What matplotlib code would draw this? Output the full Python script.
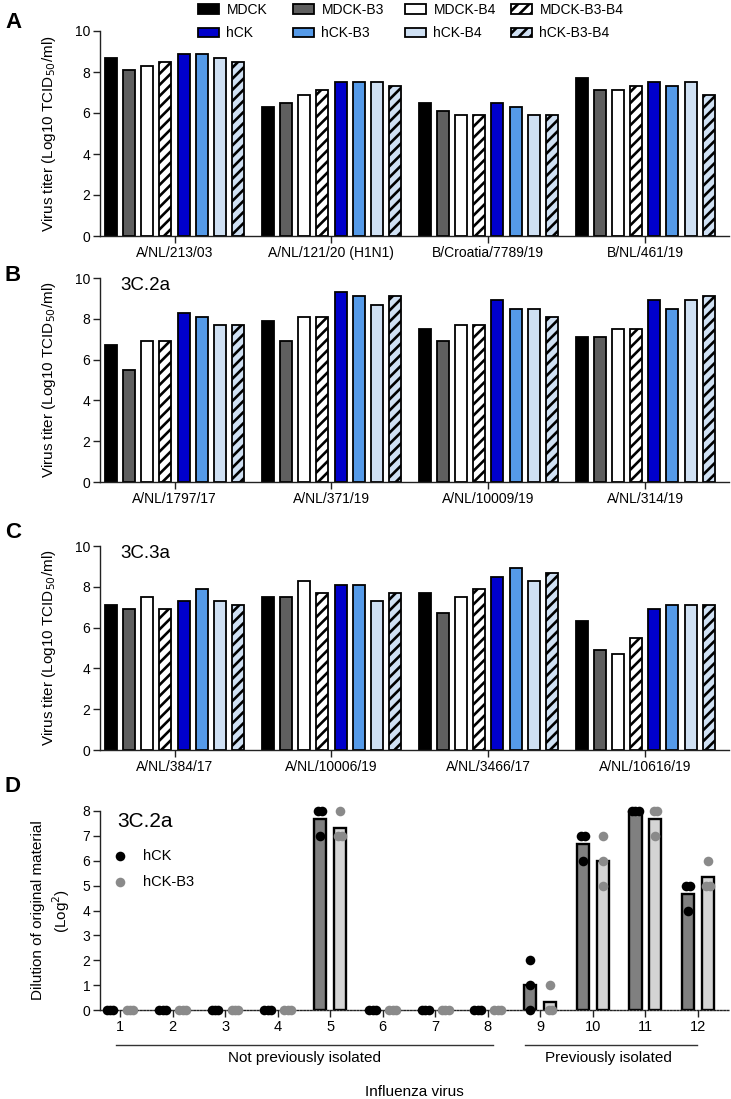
import matplotlib
matplotlib.use('Agg')
import matplotlib.pyplot as plt
import numpy as np

plt.rcParams['font.family'] = ['Liberation Sans', 'DejaVu Sans']
plt.rcParams['hatch.linewidth'] = 1.9

cells = ['MDCK', 'MDCK-B3', 'MDCK-B4', 'MDCK-B3-B4', 'hCK', 'hCK-B3', 'hCK-B4', 'hCK-B3-B4']
fills = ['#000000', '#5f5f5f', '#ffffff', '#ffffff', '#0000cc', '#559ae8', '#cfe0f3', '#cfe0f3']
hatches = [None, None, None, '///', None, None, None, '///']

# panel A
viruses_a = ['A/NL/213/03', 'A/NL/121/20 (H1N1)', 'B/Croatia/7789/19', 'B/NL/461/19']
titer_a = [
    [8.7, 8.1, 8.3, 8.5, 8.9, 8.9, 8.7, 8.5],
    [6.3, 6.5, 6.9, 7.1, 7.5, 7.5, 7.5, 7.3],
    [6.5, 6.1, 5.9, 5.9, 6.5, 6.3, 5.9, 5.9],
    [7.7, 7.1, 7.1, 7.3, 7.5, 7.3, 7.5, 6.9],
]
# panel B (3C.2a)
viruses_b = ['A/NL/1797/17', 'A/NL/371/19', 'A/NL/10009/19', 'A/NL/314/19']
titer_b = [
    [6.7, 5.5, 6.9, 6.9, 8.3, 8.1, 7.7, 7.7],
    [7.9, 6.9, 8.1, 8.1, 9.3, 9.1, 8.7, 9.1],
    [7.5, 6.9, 7.7, 7.7, 8.9, 8.5, 8.5, 8.1],
    [7.1, 7.1, 7.5, 7.5, 8.9, 8.5, 8.9, 9.1],
]
# panel C (3C.3a)
viruses_c = ['A/NL/384/17', 'A/NL/10006/19', 'A/NL/3466/17', 'A/NL/10616/19']
titer_c = [
    [7.1, 6.9, 7.5, 6.9, 7.3, 7.9, 7.3, 7.1],
    [7.5, 7.5, 8.3, 7.7, 8.1, 8.1, 7.3, 7.7],
    [7.7, 6.7, 7.5, 7.9, 8.5, 8.9, 8.3, 8.7],
    [6.3, 4.9, 4.7, 5.5, 6.9, 7.1, 7.1, 7.1],
]
# panel D: dilution replicates per virus
virus_num = list(range(1, 13))
hck_reps = [[0, 0, 0], [0, 0, 0], [0, 0, 0], [0, 0, 0], [8, 8, 7], [0, 0, 0],
            [0, 0, 0], [0, 0, 0], [2, 1, 0], [7, 7, 6], [8, 8, 8], [5, 5, 4]]
hckb3_reps = [[0, 0, 0], [0, 0, 0], [0, 0, 0], [0, 0, 0], [8, 7, 7], [0, 0, 0],
              [0, 0, 0], [0, 0, 0], [1, 0, 0], [7, 6, 5], [8, 8, 7], [6, 5, 5]]

W, H = 731, 1099
fig = plt.figure(figsize=(W / 100, H / 100), dpi=100)


def axes_px(top, bottom, left=100, right=729):
    return fig.add_axes([left / W, 1 - bottom / H, (right - left) / W, (bottom - top) / H])


def style_axes(ax):
    for s in ['top', 'right']:
        ax.spines[s].set_visible(False)
    for s in ['left', 'bottom']:
        ax.spines[s].set_linewidth(1.0)
        ax.spines[s].set_color('#222222')
    ax.tick_params(direction='out', length=5, width=1.0, color='#222222', labelsize=10, pad=2)


group_step = 8.63


def bar_panel(ax, names, titers, clade=None):
    containers = []
    for j in range(len(cells)):
        xs = np.arange(len(names)) * group_step + (j - 3.5)
        c = ax.bar(xs, [row[j] for row in titers], width=0.66, color=fills[j],
                   edgecolor='black', linewidth=1.3, hatch=hatches[j], label=cells[j])
        containers.append(c)
    ax.set_xticks(np.arange(len(names)) * group_step, names)
    ax.tick_params(axis='x', labelsize=10.5)
    ax.set_xlim(-4.1, 30.5)
    ax.set_ylim(0, 10)
    ax.set_yticks([0, 2, 4, 6, 8, 10])
    ax.set_ylabel('Virus titer (Log10 TCID$_{50}$/ml)', fontsize=11)
    ax.yaxis.set_label_coords(-0.066, 0.5)
    style_axes(ax)
    if clade:
        ax.text(0.033, 0.963, clade, transform=ax.transAxes, fontsize=13.5,
                ha='left', va='center')
    return containers


ax_a = axes_px(31, 236)
bars_a = bar_panel(ax_a, viruses_a, titer_a)
ax_b = axes_px(278, 482)
bar_panel(ax_b, viruses_b, titer_b, '3C.2a')
ax_c = axes_px(546, 750)
bar_panel(ax_c, viruses_c, titer_c, '3C.3a')

# legend: one column per cell pair
legend_x = [198, 293, 405, 511]
for k in range(4):
    fig.legend(handles=[bars_a[k], bars_a[k + 4]], loc='upper left',
               bbox_to_anchor=(legend_x[k] / W, 1 - 3 / H), frameon=False,
               fontsize=10, handlelength=1.5, handleheight=0.7,
               handletextpad=0.55, labelspacing=0.68, borderpad=0,
               borderaxespad=0)

# panel D
ax_d = axes_px(811, 1010)
off = 0.19
bw = 0.23
hck_mean = [np.mean(r) for r in hck_reps]
b3_mean = [np.mean(r) for r in hckb3_reps]
xs = np.array(virus_num, dtype=float)
ax_d.bar(xs - off, hck_mean, width=bw, color='#808080', edgecolor='black', linewidth=1.7, zorder=2)
ax_d.bar(xs + off, b3_mean, width=bw, color='#d4d4d4', edgecolor='black', linewidth=1.7, zorder=2)


def spread(reps):
    # side-by-side offsets for equal values
    out = []
    for i, v in enumerate(reps):
        same = [k for k, w in enumerate(reps) if w == v]
        n = len(same)
        pos = same.index(i)
        out.append((pos - (n - 1) / 2) * 0.065)
    return out


for i, v in enumerate(virus_num):
    dx = spread(hck_reps[i])
    ax_d.scatter([v - off + d for d in dx], hck_reps[i], s=48, color='black',
                 zorder=4, clip_on=False, linewidths=0, label='hCK' if i == 0 else None)
    dx = spread(hckb3_reps[i])
    ax_d.scatter([v + off + d for d in dx], hckb3_reps[i], s=48, color='#8a8a8a',
                 zorder=4, clip_on=False, linewidths=0, label='hCK-B3' if i == 0 else None)

ax_d.set_xlim(0.62, 12.59)
ax_d.set_ylim(0, 8)
ax_d.set_yticks(range(0, 9))
ax_d.set_xticks(virus_num)
style_axes(ax_d)
ax_d.tick_params(axis='x', labelsize=10.5)
ax_d.spines['bottom'].set_linestyle((0, (1.2, 1.2)))
ax_d.spines['bottom'].set_zorder(3)
ax_d.set_ylabel('Dilution of original material\n(Log$^2$)', fontsize=11, linespacing=1.3)
ax_d.yaxis.set_label_coords(-0.045, 0.5)
ax_d.text(0.028, 0.945, '3C.2a', transform=ax_d.transAxes, fontsize=15, ha='left', va='center')
ax_d.legend(loc='upper left', bbox_to_anchor=(114 / W, 1 - 849 / H),
            bbox_transform=fig.transFigure, frameon=False, fontsize=10.5,
            handlelength=0.8, handletextpad=1.2, labelspacing=0.8, borderpad=0,
            borderaxespad=0, scatterpoints=1)

trans = ax_d.get_xaxis_transform()
ax_d.plot([0.92, 8.1], [-0.176, -0.176], transform=trans, color='#333333', lw=1, clip_on=False)
ax_d.plot([8.7, 11.99], [-0.176, -0.176], transform=trans, color='#333333', lw=1, clip_on=False)
ax_d.text(4.51, -0.24, 'Not previously isolated', transform=trans, ha='center', va='center', fontsize=11)
ax_d.text(10.3, -0.24, 'Previously isolated', transform=trans, ha='center', va='center', fontsize=11)
ax_d.text(0.5, -0.41, 'Influenza virus', transform=ax_d.transAxes, ha='center', va='center', fontsize=11)

# panel letters
for letter, y in [('A', 22), ('B', 275), ('C', 533), ('D', 787)]:
    fig.text(13 / W, 1 - y / H, letter, fontsize=16, fontweight='bold', ha='center', va='center')

fig.savefig('out.png', dpi=100)
